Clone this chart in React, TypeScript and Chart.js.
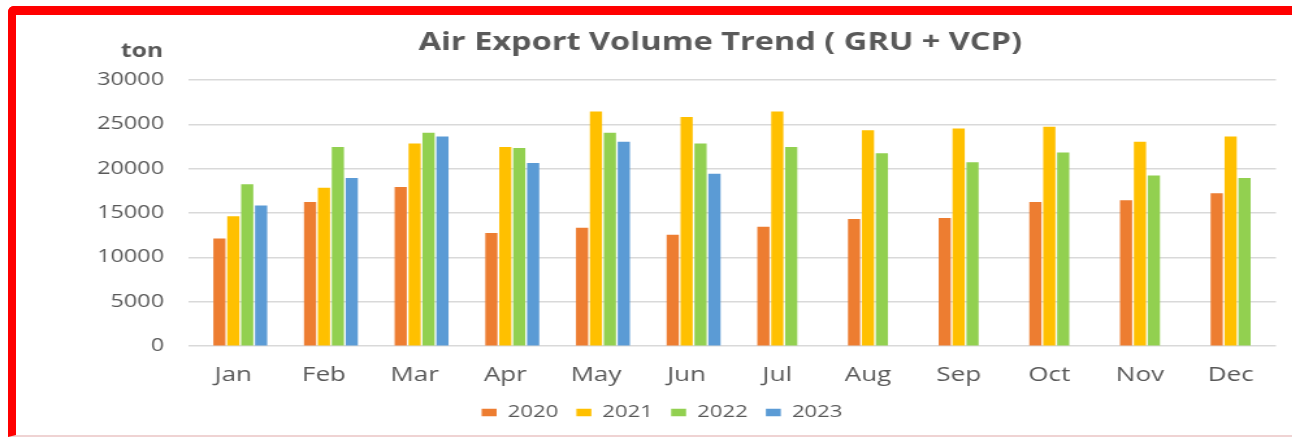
import React, { useEffect, useRef } from "react";
import { Chart, registerables } from "chart.js";

Chart.register(...registerables);

const months = ["Jan", "Feb", "Mar", "Apr", "May", "Jun", "Jul", "Aug", "Sep", "Oct", "Nov", "Dec"];
const v2020 = [12100, 16200, 17900, 12700, 13300, 12500, 13400, 14300, 14400, 16200, 16400, 17200];
const v2021 = [14600, 17800, 22800, 22400, 26400, 25800, 26400, 24300, 24500, 24700, 23000, 23600];
const v2022 = [18200, 22400, 24000, 22300, 24000, 22800, 22400, 21700, 20700, 21800, 19200, 18900];
const v2023 = [15800, 18900, 23600, 20600, 23000, 19400, null, null, null, null, null, null];
const seriesNames = ["2020", "2021", "2022", "2023"];
const seriesColors = ["#ED7D31", "#FFC000", "#92D050", "#5B9BD5"];
const titleText = "Air Export Volume Trend ( GRU + VCP)";
const unitText = "ton";

const SX = 1.3;
const W = 994;
const H = 437;
const TXT = "#595959";
const FONT = "'Open Sans', sans-serif";

export default function App() {
  const ref = useRef<HTMLCanvasElement | null>(null);

  useEffect(() => {
    if (!ref.current) return;
    const unitPlugin = {
      id: "unitLabel",
      afterLayout(chart: any) {
        const t = chart.titleBlock;
        if (t) {
          t.left -= 9;
          t.right -= 9;
        }
      },
      afterDraw(chart: any) {
        const ctx = chart.ctx;
        ctx.save();
        ctx.font = `bold 19px ${FONT}`;
        ctx.fillStyle = TXT;
        ctx.textAlign = "right";
        ctx.textBaseline = "middle";
        ctx.fillText(unitText, 125.5, 52);
        ctx.restore();
      },
    };
    const all = [v2020, v2021, v2022, v2023];
    // An empty leading slot reproduces the original's bar placement within each month.
    const spacer = {
      label: "",
      data: months.map(() => null),
      backgroundColor: "rgba(0,0,0,0)",
      borderWidth: 0,
      barThickness: 10.7,
      maxBarThickness: 8.7,
    };
    const chart = new Chart(ref.current, {
      type: "bar",
      data: {
        labels: months,
        datasets: [
          spacer,
          ...all.map((d, i) => ({
            label: seriesNames[i],
            data: d,
            backgroundColor: seriesColors[i],
            borderWidth: 0,
            barThickness: 10.7,
            maxBarThickness: 8.7,
          })),
        ],
      },
      options: {
        responsive: false,
        animation: false,
        layout: { padding: { left: 37, right: 12.5, top: 0, bottom: 6 } },
        plugins: {
          tooltip: { enabled: false },
          title: {
            display: true,
            text: titleText,
            fullSize: false,
            color: TXT,
            font: { family: FONT, size: 25, weight: "bold" },
            padding: { top: 28, bottom: 22 },
          },
          legend: {
            display: true,
            position: "bottom",
            align: "center",
            labels: {
              color: TXT,
              font: { family: FONT, size: 17 },
              boxWidth: 11.5,
              boxHeight: 7.7,
              padding: 14,
              filter: (item: any) => item.text !== "",
            },
          },
        },
        scales: {
          x: {
            grid: { display: false, drawTicks: false },
            border: { display: false },
            ticks: { color: TXT, font: { family: FONT, size: 20 }, padding: 17 },
            afterFit(scale: any) {
              scale.height = 44;
            },
          },
          y: {
            min: 0,
            max: 30000,
            grid: { color: "#d9d9d9", lineWidth: 1.5, drawTicks: false },
            border: { display: false },
            ticks: {
              stepSize: 5000,
              color: TXT,
              font: { family: FONT, size: 18 },
              padding: 18.4,
              callback: (v: any) => String(v),
            },
            afterFit(scale: any) {
              scale.width = 107.6;
            },
          },
        },
      },
      plugins: [unitPlugin],
    });
    return () => chart.destroy();
  }, []);

  return (
    <>
      <div
        style={{
          position: "fixed",
          left: 8,
          top: 6,
          width: 1284,
          height: 431,
          boxSizing: "border-box",
          borderTop: "9px solid #FF0000",
          borderLeft: "8px solid #FF0000",
          borderBottom: "2px solid #EFD3D3",
          borderTopLeftRadius: 6,
          background: "#ffffff",
        }}
      />
      <canvas
        ref={ref}
        width={W}
        height={H}
        style={{ position: "fixed", left: 0, top: 0, transform: `scaleX(${SX})`, transformOrigin: "0 0" }}
      />
    </>
  );
}
